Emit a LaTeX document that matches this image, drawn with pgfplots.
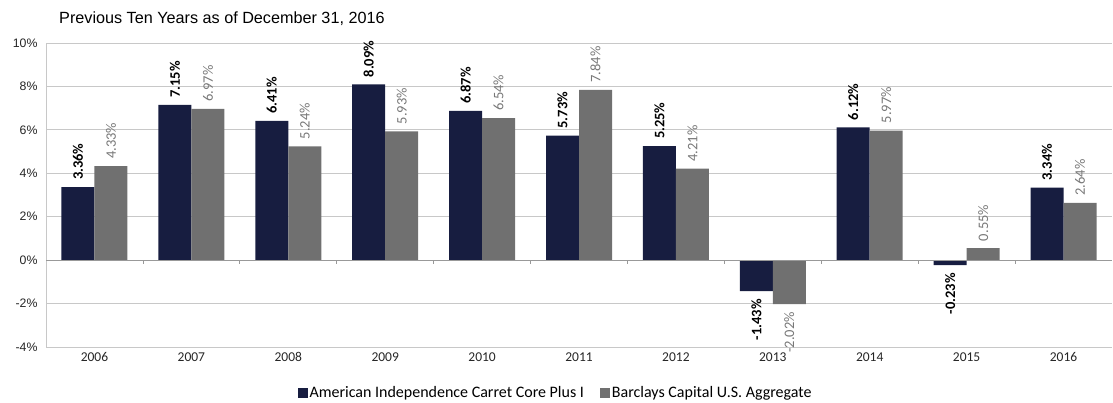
\documentclass[border=0pt]{standalone}
\usepackage{fontspec}
\setmainfont{Carlito}
\newfontfamily\arialf{Liberation Sans}
\usepackage{pgfplots}
\pgfplotsset{compat=1.18}
\definecolor{navy}{RGB}{23,29,64}
\definecolor{barg}{RGB}{112,112,112}
\definecolor{gridg}{RGB}{200,200,200}
\definecolor{labg}{RGB}{120,120,120}
\begin{document}
\begin{tikzpicture}
\path[use as bounding box] (0,0) rectangle (1113pt,402pt);
\node[anchor=base west, font=\arialf\fontsize{16.2}{19}\selectfont, inner sep=0pt] at (59pt,378pt) {Previous Ten Years as of December 31, 2016};
\begin{axis}[
  at={(46pt,55pt)}, anchor=south west,
  scale only axis, width=1066pt, height=304pt,
  ymin=-4, ymax=10, ytick={-4,-2,...,10},
  yticklabels={-4\%,-2\%,0\%,2\%,4\%,6\%,8\%,10\%},
  yticklabel style={font=\arialf\fontsize{12.3}{14}\selectfont, text=black!85, xshift=-5pt},
  xmin=-0.5, xmax=10.5,
  xtick={0,...,10},
  xticklabels={2006,2007,2008,2009,2010,2011,2012,2013,2014,2015,2016},
  xticklabel style={font=\fontsize{13.5}{15}\selectfont, text=black!85, yshift=-2pt},
  major tick length=0pt,
  axis x line*=bottom, axis y line*=left,
  x axis line style={draw=none},
  y axis line style={draw=gridg, line width=1pt},
  ymajorgrids, grid style={draw=gridg, line width=0.9pt},
  ybar=0pt, bar width=33pt,
  visualization depends on={y \as \rawy},
  nodes near coords={\pgfmathprintnumber[fixed,fixed zerofill,precision=2,assume math mode=true]{\pgfplotspointmeta}\%},
  every node near coord/.append style={rotate=90, font=\fontsize{14.5}{16}\selectfont, inner sep=0pt,
     /utils/exec={\ifdim\rawy pt<0pt\def\nnanchor{east}\def\nnshift{-8pt}\else\def\nnanchor{west}\def\nnshift{7pt}\fi}, anchor=\nnanchor, xshift=\nnshift},
  legend columns=2,
  legend style={at={(0.478,-0.151)}, anchor=center, draw=none, fill=none,
     font=\fontsize{16}{18}\selectfont,
     /tikz/every even column/.append style={column sep=14pt}},
  legend image code/.code={\fill[#1] (0pt,-5pt) rectangle (10pt,5pt);},
  clip=false,
]
\addplot[fill=navy, draw=none, every node near coord/.append style={font=\bfseries\fontsize{14.5}{16}\selectfont, text=black}] coordinates {
(0,3.36) (1,7.15) (2,6.41) (3,8.09) (4,6.87) (5,5.73) (6,5.25) (7,-1.43) (8,6.12) (9,-0.23) (10,3.34)};
\addplot[fill=barg, draw=none, every node near coord/.append style={text=labg}] coordinates {
(0,4.33) (1,6.97) (2,5.24) (3,5.93) (4,6.54) (5,7.84) (6,4.21) (7,-2.02) (8,5.97) (9,0.55) (10,2.64)};
\legend{American Independence Carret Core Plus I, Barclays Capital U.S. Aggregate}
\draw[draw=black!40, line width=1pt] (axis cs:-0.5,0) -- (axis cs:10.5,0);
\pgfplotsinvokeforeach{0.5,1.5,2.5,3.5,4.5,5.5,6.5,7.5,8.5,9.5}{
  \draw[draw=black!40, line width=0.8pt] (axis cs:#1,0) -- ++(0pt,-4pt);
}
\end{axis}
\end{tikzpicture}
\end{document}
